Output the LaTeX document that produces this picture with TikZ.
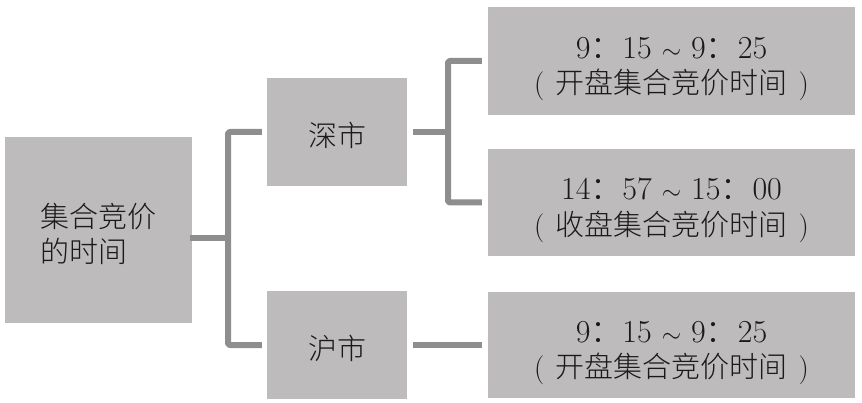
\documentclass[tikz,border=0pt]{standalone}
\usepackage{fontspec}
\usepackage{xcolor}
\newfontfamily\cjk{Noto Sans CJK SC}[UprightFont=* Light]
\definecolor{boxgray}{HTML}{BDBBBC}
\definecolor{linegray}{HTML}{8E8E8E}
\definecolor{textblack}{HTML}{1A1A1A}
\usetikzlibrary{positioning}
% time line and bracketed caption of the right boxes
\newcommand{\tm}[2]{#1{\cjk ：}#2}
\newcommand{\trange}[4]{{\rmfamily\fontsize{32}{35}\selectfont\tm{#1}{#2}\hspace{10pt}$\sim$\hspace{10pt}\tm{#3}{#4}}}
\newcommand{\capt}[1]{{\rmfamily(}\hspace{11pt}#1\hspace{11pt}{\rmfamily)}}
% lowered text block
\newcommand{\boxtext}[2][c]{\raisebox{-8pt}[\height][\depth]{\begin{tabular}{@{}#1@{}}#2\end{tabular}}}

\begin{document}
\begin{tikzpicture}[
    x=1pt, y=-1pt,
    every node/.style={font=\cjk\fontsize{29}{35}\selectfont, text=textblack},
    grbox/.style={rectangle, fill=boxgray, inner sep=0pt},
    link/.style={draw=linegray, line width=6pt, line join=round, rounded corners=2pt}
]
\useasboundingbox (0,0) rectangle (862,403);

% Boxes placed manually
\node[grbox, minimum width=187, minimum height=186] (L) at (98.5,230) {\boxtext[l]{集合竞价\\的时间}\hspace{10pt}};
\node[grbox, minimum width=140, minimum height=108] (SZ) at (337,132) {\boxtext{深市}};
\node[grbox, minimum width=140, minimum height=107] (SH) at (337,345) {\boxtext{沪市}};
\node[grbox, minimum width=367, minimum height=108] (T1) at (671.5,61)
    {\boxtext{\trange{9}{15}{9}{25}\\\capt{开盘集合竞价时间}}};
\node[grbox, minimum width=367, minimum height=107] (T2) at (671.5,202.5)
    {\boxtext{\trange{14}{57}{15}{00}\\\capt{收盘集合竞价时间}}};
\node[grbox, minimum width=367, minimum height=106] (T3) at (671.5,345)
    {\boxtext{\trange{9}{15}{9}{25}\\\capt{开盘集合竞价时间}}};

% Junctions
\coordinate (j1) at (228,238.5);
\coordinate (j2) at (448,132);

% Connectors
\draw[link] ([xshift=-2]L.east |- j1) -- (j1);
\draw[link] ([xshift=-5]SZ.west) -| (j1) |- ([xshift=-5]SH.west);
\draw[link] ([xshift=6]SZ.east) -- (j2);
\draw[link] ([xshift=-6]T1.west) -| (j2) |- ([xshift=-6]T2.west);
\draw[link] ([xshift=6]SH.east) -- ([xshift=-6]T3.west);
\end{tikzpicture}
\end{document}
